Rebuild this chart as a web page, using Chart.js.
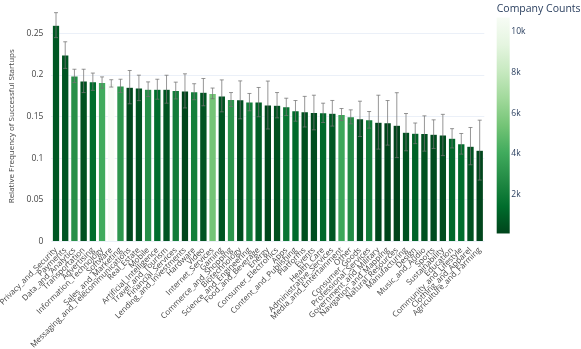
<!DOCTYPE html>
<html>
<head>
<meta charset="utf-8">
<script src="https://cdn.jsdelivr.net/npm/chart.js@4.4.0/dist/chart.umd.min.js"></script>
<style>
  html, body { margin: 0; padding: 0; background: #fff; }
</style>
</head>
<body>
<canvas id="chart-container" width="581" height="349"></canvas>
<script>
// categories, ordered by success frequency
const categories = [
    "Privacy_and_Security", "Payments", "Data_and_Analytics", "Transportation", "Advertising",
    "Information_Technology", "Software", "Sales_and_Marketing", "Messaging_and_Telecommunications",
    "Real_Estate", "Mobile", "Artificial_Intelligence", "Travel_and_Tourism", "Financial_Services",
    "Lending_and_Investments", "Hardware", "Video", "Internet_Services", "Gaming",
    "Commerce_and_Shopping", "Biotechnology", "Science_and_Engineering", "Food_and_Beverage",
    "Energy", "Consumer_Electronics", "Apps", "Content_and_Publishing", "Platforms", "Events",
    "Health_Care", "Administrative_Services", "Media_and_Entertainment", "Other", "Consumer_Goods",
    "Professional_Services", "Government_and_Military", "Navigation_and_Mapping",
    "Natural_Resources", "Manufacturing", "Design", "Music_and_Audio", "Sports", "Sustainability",
    "Education", "Community_and_Lifestyle", "Clothing_and_Apparel", "Agriculture_and_Farming"
];
const success_freq = [
    0.260, 0.224, 0.199, 0.193, 0.192, 0.191, 0.190, 0.187, 0.1855, 0.1846,
    0.183, 0.183, 0.183, 0.1814, 0.181, 0.180, 0.1795, 0.178, 0.175, 0.1706,
    0.1702, 0.1675, 0.1675, 0.164, 0.1638, 0.1618, 0.157, 0.156, 0.155, 0.1546,
    0.1541, 0.1526, 0.1498, 0.1474, 0.1462, 0.1434, 0.1426, 0.1398, 0.1314, 0.130,
    0.1298, 0.129, 0.128, 0.124, 0.1174, 0.1146, 0.1098
];
const freq_err = [
    0.015, 0.016, 0.008, 0.014, 0.0104, 0.0068, 0.0044, 0.008, 0.020, 0.0153,
    0.0088, 0.012, 0.0168, 0.0101, 0.0205, 0.0096, 0.0164, 0.0064, 0.0192, 0.0084,
    0.0228, 0.0104, 0.0176, 0.0288, 0.0152, 0.0104, 0.0124, 0.0184, 0.0208, 0.0116,
    0.0154, 0.0072, 0.0084, 0.0212, 0.010, 0.0324, 0.0268, 0.039, 0.0224, 0.0124,
    0.0212, 0.0172, 0.0248, 0.0116, 0.0124, 0.0224, 0.036
];
const company_counts = [
    750, 630, 2960, 520, 1430, 4080, 10700, 3200, 200, 520,
    2900, 1430, 620, 2100, 120, 2200, 620, 5400, 620, 3200,
    350, 2200, 900, 200, 520, 1800, 1300, 450, 350, 1300,
    700, 3900, 2750, 350, 2100, 150, 130, 100, 520, 1100,
    520, 350, 350, 1250, 1430, 520, 150
];
const y_ticks = [0, 0.05, 0.1, 0.15, 0.2, 0.25];
const cb_ticks = [2000, 4000, 6000, 8000, 10000];

// plotly "Greens", dark at low counts
const greens = [
    [0, [0, 68, 27]], [0.125, [0, 109, 44]], [0.25, [35, 139, 69]], [0.375, [65, 171, 93]],
    [0.5, [116, 196, 118]], [0.625, [161, 217, 155]], [0.75, [199, 233, 192]],
    [0.875, [229, 245, 224]], [1, [247, 252, 245]]
];
const cmin = Math.min(...company_counts);
const cmax = Math.max(...company_counts);

function green_at(t) {
    t = Math.max(0, Math.min(1, t));
    for (let i = 1; i < greens.length; i++) {
        if (t <= greens[i][0]) {
            let [t0, c0] = greens[i - 1];
            let [t1, c1] = greens[i];
            let f = (t - t0) / (t1 - t0);
            let c = c0.map((v, k) => Math.round(v + (c1[k] - v) * f));
            return 'rgb(' + c.join(',') + ')';
        }
    }
    return 'rgb(247,252,245)';
}
const bar_colors = company_counts.map((c) => green_at((c - cmin) / (cmax - cmin)));

// error bars, drawn on the y scale
const errorBars = {
    id: 'errorBars',
    afterDatasetsDraw(chart) {
        const ctx = chart.ctx;
        const y = chart.scales.y;
        const meta = chart.getDatasetMeta(0);
        ctx.save();
        ctx.strokeStyle = 'rgba(115,115,115,0.75)';
        ctx.lineWidth = 1;
        meta.data.forEach((bar, i) => {
            let top = y.getPixelForValue(success_freq[i] + freq_err[i]);
            let bot = y.getPixelForValue(success_freq[i] - freq_err[i]);
            ctx.beginPath();
            ctx.moveTo(bar.x, top); ctx.lineTo(bar.x, bot);
            ctx.moveTo(bar.x - 2, top); ctx.lineTo(bar.x + 2, top);
            ctx.moveTo(bar.x - 2, bot); ctx.lineTo(bar.x + 2, bot);
            ctx.stroke();
        });
        ctx.restore();
    }
};

// colour bar next to the plot, on the cb scale
const colorBar = {
    id: 'colorBar',
    afterDraw(chart) {
        const ctx = chart.ctx;
        const cb = chart.scales.cb;
        const x0 = chart.chartArea.right + 12.4;
        const top = cb.getPixelForValue(cmax);
        const bot = cb.getPixelForValue(cmin);
        const grad = ctx.createLinearGradient(0, bot, 0, top);
        for (let [t] of greens) grad.addColorStop(t, green_at(t));
        ctx.save();
        ctx.fillStyle = grad;
        ctx.fillRect(x0, top, 13, bot - top);
        ctx.fillStyle = '#2a3f5f';
        ctx.font = '10.5px "Open Sans", sans-serif';
        ctx.textBaseline = 'middle';
        ctx.fillText('Company Counts', x0, 9.5);
        ctx.restore();
    }
};

// vertical axes should not reserve room above/below the plot
const noVertPad = (s) => { s.paddingTop = 0; s.paddingBottom = 0; };

new Chart(document.getElementById('chart-container'), {
    type: 'bar',
    data: {
        labels: categories,
        datasets: [{
            label: 'Relative Frequency of Successful Startups',
            data: success_freq,
            backgroundColor: bar_colors,
            borderColor: 'rgba(255,255,255,0.9)',
            borderWidth: 0.5,
            categoryPercentage: 0.8,
            barPercentage: 1.0
        }]
    },
    options: {
        responsive: false,
        animation: false,
        devicePixelRatio: 1,
        layout: { padding: { top: 11, left: 0, right: 0, bottom: 0 } },
        plugins: { legend: { display: false }, tooltip: { enabled: false } },
        scales: {
            x: {
                grid: { display: false, drawTicks: false },
                border: { display: false },
                ticks: {
                    autoSkip: false, maxRotation: 45, minRotation: 45,
                    padding: 4, color: '#444',
                    font: { family: '"Open Sans", sans-serif', size: 8 }
                },
                afterFit: (s) => { s.height = 107.5; s.paddingLeft = 0; s.paddingRight = 0; }
            },
            y: {
                min: 0,
                max: 0.277,
                afterBuildTicks: (s) => { s.ticks = y_ticks.map((v) => ({ value: v })); },
                grid: { color: '#ebf0f8', drawTicks: false },
                border: { display: false },
                ticks: {
                    padding: 8, color: '#444',
                    font: { family: '"Open Sans", sans-serif', size: 8.5 },
                    callback: (v) => String(v)
                },
                title: {
                    display: true,
                    text: 'Relative Frequency of Successful Startups',
                    color: '#444',
                    font: { family: '"Open Sans", sans-serif', size: 8 },
                    padding: { top: 7, bottom: 0 }
                },
                afterFit: (s) => { s.width = 51.4; noVertPad(s); }
            },
            cb: {
                position: 'right',
                min: -294,
                max: 11020,
                afterBuildTicks: (s) => { s.ticks = cb_ticks.map((v) => ({ value: v })); },
                grid: { display: false, drawTicks: false },
                border: { display: false },
                ticks: {
                    padding: 27, color: '#2a3f5f',
                    font: { family: '"Open Sans", sans-serif', size: 8.5 },
                    callback: (v) => (v / 1000) + 'k'
                },
                afterFit: (s) => { s.width = 96.7; noVertPad(s); }
            }
        }
    },
    plugins: [errorBars, colorBar]
});
</script>
</body>
</html>
